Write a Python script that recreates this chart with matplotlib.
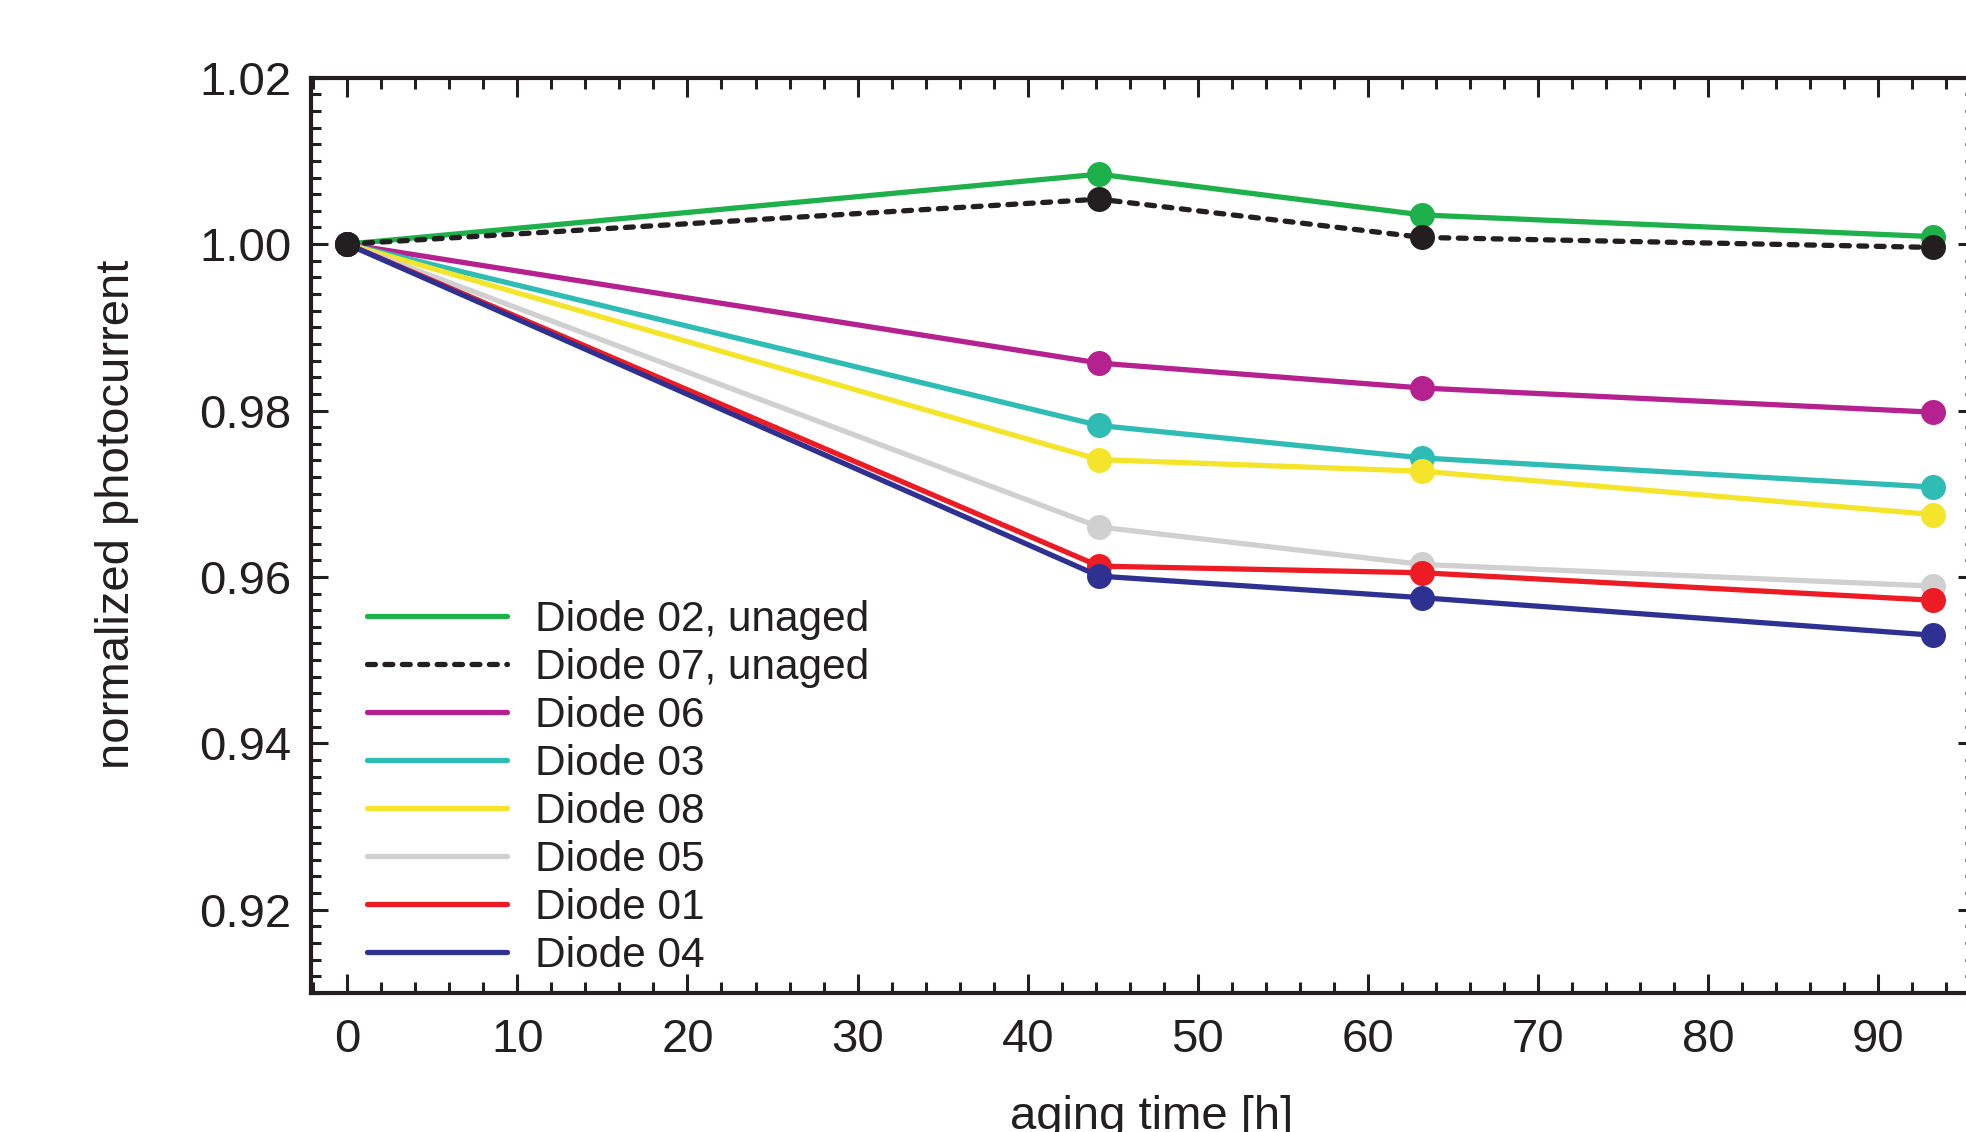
import matplotlib
matplotlib.use("Agg")
import matplotlib.pyplot as plt
from matplotlib.lines import Line2D
from matplotlib.ticker import MultipleLocator

plt.rcParams['font.family'] = ['Liberation Sans', 'DejaVu Sans']

# aging time [h]
t = [0, 44.2, 63.2, 93.2]

labels = ['Diode 02, unaged', 'Diode 07, unaged', 'Diode 06', 'Diode 03',
          'Diode 08', 'Diode 05', 'Diode 01', 'Diode 04']
colors = ['#1db04b', '#231f20', '#b5218e', '#2ebcb4',
          '#f5e52a', '#d0d0d0', '#ed1c24', '#2e3192']

d02 = [1.000, 1.0084, 1.0035, 1.0009]
d07 = [1.000, 1.0054, 1.0008, 0.9996]
d06 = [1.000, 0.9857, 0.9827, 0.9798]
d03 = [1.000, 0.9782, 0.9743, 0.9708]
d08 = [1.000, 0.9741, 0.9727, 0.9675]
d05 = [1.000, 0.9660, 0.9615, 0.9589]
d01 = [1.000, 0.9613, 0.9605, 0.9572]
d04 = [1.000, 0.9601, 0.9575, 0.9530]
series = [d02, d07, d06, d03, d08, d05, d01, d04]

ink = '#231f20'

fig = plt.figure(figsize=(19.66, 11.32), dpi=100)
ax = fig.add_axes([0.1582, 0.1228, 0.8464, 0.8086])

handles = []
for i, (y, c, lab) in enumerate(zip(series, colors, labels)):
    dotted = lab.startswith('Diode 07')
    ls = (0, (1.5, 1.8)) if dotted else '-'
    z = 5 if dotted else 2 + i * 0.1
    ax.plot(t, y, color=c, lw=3.8, ls=ls, marker='o', ms=18,
            markeredgewidth=0, dash_capstyle='round', zorder=z)
    handles.append(Line2D([0], [0], color=c, lw=3.8, ls=ls,
                          dash_capstyle='round', solid_capstyle='round'))

ax.set_xlim(-2.13, 95.69)
ax.set_ylim(0.910, 1.020)
ax.xaxis.set_major_locator(MultipleLocator(10))
ax.xaxis.set_minor_locator(MultipleLocator(2))
ax.yaxis.set_major_locator(MultipleLocator(0.02))
ax.yaxis.set_minor_locator(MultipleLocator(0.002))
ax.yaxis.set_major_formatter(matplotlib.ticker.FormatStrFormatter('%.2f'))

for s in ax.spines.values():
    s.set_linewidth(3)
    s.set_color(ink)

ax.tick_params(which='both', direction='in', top=True, right=True,
               width=2.2, color=ink, labelcolor=ink, labelsize=34)
ax.tick_params(axis='x', which='major', length=14, pad=18)
ax.tick_params(axis='x', which='minor', length=8)
ax.tick_params(axis='y', which='major', length=12, pad=14)
ax.tick_params(axis='y', which='minor', length=7)

fig.text(117 / 1966, 1 - 514 / 1132, 'normalized photocurrent', rotation=90,
         ha='center', va='center', fontsize=34, color=ink)
# the reference cuts this label at the bottom edge
fig.text(1152 / 1966, 1 - 1129 / 1132, 'aging time [h]',
         ha='center', va='baseline', fontsize=34, color=ink)

fig.legend(handles, labels, loc='upper left', bbox_to_anchor=(0.1867, 0.470),
           frameon=False, fontsize=30.5, handlelength=3.3, handletextpad=0.67,
           labelspacing=0.19, borderpad=0, borderaxespad=0, labelcolor=ink)

fig.savefig('out.png', dpi=100)
